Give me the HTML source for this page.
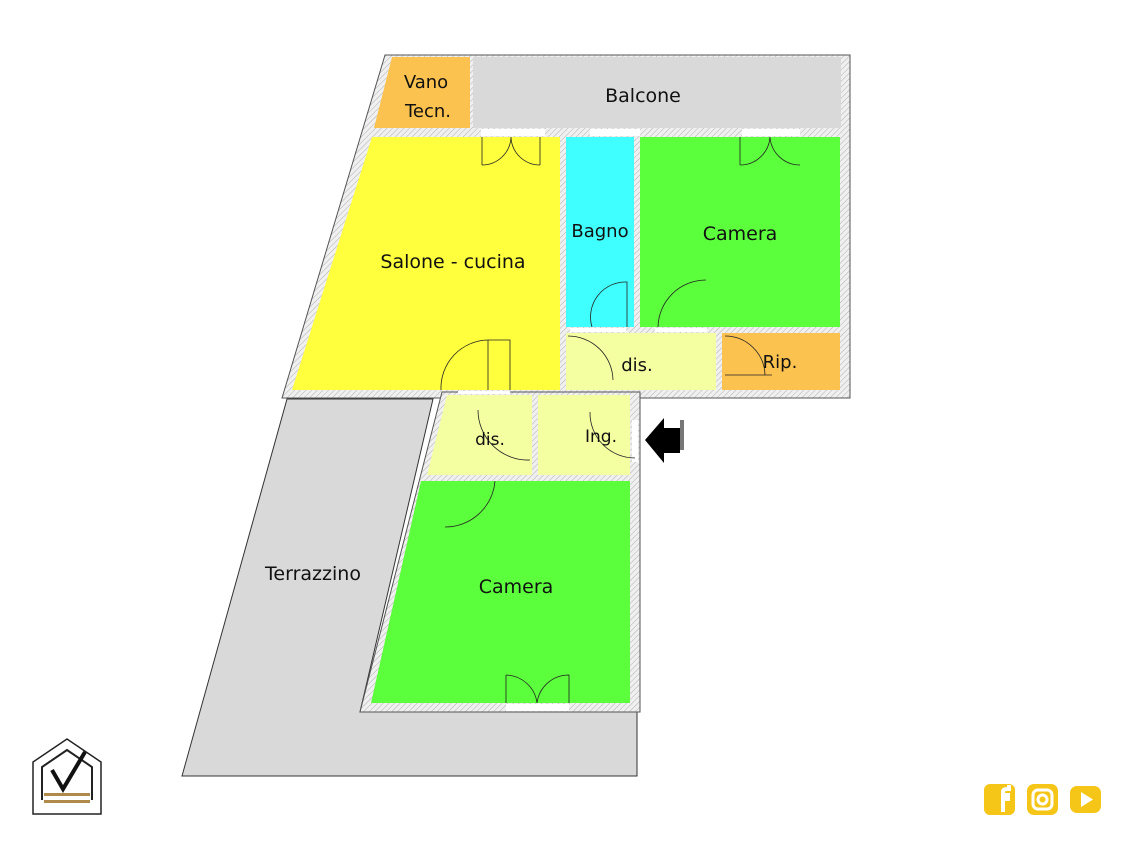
<!DOCTYPE html>
<html><head><meta charset="utf-8"><style>
html,body{margin:0;padding:0;background:#fff;}
svg{display:block;}
text{font-family:"DejaVu Sans","Liberation Sans",sans-serif;fill:#111;}
</style></head><body>
<svg width="1133" height="850" viewBox="0 0 1133 850" xmlns="http://www.w3.org/2000/svg">
<defs>
<pattern id="h" width="4" height="4" patternUnits="userSpaceOnUse" patternTransform="rotate(45)">
<rect width="4" height="4" fill="#f0f0f0"/><line x1="0" y1="0" x2="0" y2="4" stroke="#b0b0b0" stroke-width="1"/>
</pattern>
</defs>
<!-- terrace -->
<polygon points="287,399 433,399 360,712 637,712 637,776 182,776" fill="#d9d9d9" stroke="#333" stroke-width="1"/>
<!-- walls top block -->
<polygon points="385,55 850,55 850,398 282,398" fill="url(#h)" stroke="#555" stroke-width="1"/>
<!-- walls lower block -->
<polygon points="442,392 640,392 640,712 360,712" fill="url(#h)" stroke="#555" stroke-width="1"/>
<!-- rooms -->
<polygon points="392,57 470,57 470,128 374,128" fill="#fcc24f"/>
<rect x="473" y="57" width="368" height="71" fill="#d9d9d9"/>
<polygon points="372,137 560,137 560,390 292,390" fill="#ffff3d"/>
<rect x="566" y="137" width="68" height="190" fill="#40ffff"/>
<rect x="640" y="137" width="200" height="190" fill="#5cff3c"/>
<rect x="566" y="333" width="150" height="57" fill="#f4ffa2"/>
<rect x="722" y="333" width="118" height="57" fill="#fcc24f"/>
<polygon points="447,395 532,395 532,475 427,475" fill="#f4ffa2"/>
<rect x="538" y="395" width="92" height="80" fill="#f4ffa2"/>
<polygon points="421,481 630,481 630,703 371,703" fill="#5cff3c"/>
<!-- openings (white gaps) -->
<g fill="#fff">
<rect x="481" y="129" width="64" height="7"/>
<rect x="590" y="129" width="50" height="7"/>
<rect x="742" y="129" width="58" height="7"/>
<rect x="570" y="328" width="56" height="4"/>
<rect x="655" y="328" width="52" height="4"/>
<rect x="458" y="391" width="52" height="3"/>
<rect x="506" y="704" width="63" height="7"/>
<rect x="632" y="420" width="6" height="42"/>
</g>
<!-- door swings -->
<g fill="none" stroke="#222" stroke-width="0.8">
<path d="M482,165 A29,29 0 0 0 511,137 M511,137 A29,29 0 0 0 540,165"/>
<path d="M482,137 V165 M540,137 V165"/>
<path d="M740,165 A30,30 0 0 0 770,137 A30,30 0 0 0 800,165"/>
<path d="M740,137 V165"/>
<path d="M592,327 A35,35 0 0 1 627,282 V327"/>
<path d="M658,327 A48,48 0 0 1 706,280"/>
<path d="M568,336 A45,45 0 0 1 613,380"/>
<path d="M725,336 A40,40 0 0 1 765,375 M725,375 H772"/>
<path d="M441,390 A48,48 0 0 1 488,340 H510 V390"/>
<path d="M488,340 V390"/>
<path d="M478,410 A50,50 0 0 0 530,460"/>
<path d="M590,412 A45,45 0 0 0 635,458"/>
<path d="M445,527 A50,50 0 0 0 495,481"/>
<path d="M506,675 A32,32 0 0 1 537,703 A32,32 0 0 1 569,675 V703 M506,675 V703"/>
</g>
<!-- arrow -->
<polygon points="680,420 684,420 684,450 680,450" fill="#777"/>
<polygon points="645,440 664,418 664,428 680,428 680,453 664,453 664,463" fill="#000"/>
<!-- labels -->
<text x="426" y="88" font-size="18" text-anchor="middle">Vano</text>
<text x="428" y="117" font-size="18" text-anchor="middle">Tecn.</text>
<text x="643" y="102" font-size="19" text-anchor="middle">Balcone</text>
<text x="453" y="268" font-size="19" text-anchor="middle">Salone - cucina</text>
<text x="600" y="237" font-size="18" text-anchor="middle">Bagno</text>
<text x="740" y="240" font-size="19" text-anchor="middle">Camera</text>
<text x="637" y="371" font-size="18" text-anchor="middle">dis.</text>
<text x="780" y="368" font-size="18" text-anchor="middle">Rip.</text>
<text x="490" y="445" font-size="17" text-anchor="middle">dis.</text>
<text x="601" y="442" font-size="17" text-anchor="middle">Ing.</text>
<text x="313" y="580" font-size="19" text-anchor="middle">Terrazzino</text>
<text x="516" y="593" font-size="19" text-anchor="middle">Camera</text>
<!-- logo -->
<g>
<path d="M33,814 V762 L67,739 L101,762 V814 Z" fill="#fff" stroke="#222" stroke-width="1.5"/>
<path d="M42,800 V767 L67,750 L92,767 V800" fill="none" stroke="#222" stroke-width="2"/>
<path d="M52,770 L63,789 L85,752" fill="none" stroke="#111" stroke-width="4"/>
<rect x="44" y="793" width="46" height="3" fill="#b08a4a"/>
<rect x="44" y="800" width="46" height="3" fill="#b08a4a"/>
</g>
<!-- social -->
<g fill="#f5c518">
<rect x="984" y="784" width="31" height="31" rx="6"/>
<rect x="1027" y="784" width="31" height="31" rx="7"/>
<rect x="1070" y="786" width="31" height="27" rx="7"/>
</g>
<path d="M1003,812 V799 H1008 V795 H1003 V792 Q1003,789 1007,789 H1009 V785" fill="none" stroke="#fff" stroke-width="4"/>
<rect x="1033" y="790" width="19" height="19" rx="5" fill="none" stroke="#fff" stroke-width="3"/>
<circle cx="1042.5" cy="799.5" r="4.5" fill="none" stroke="#fff" stroke-width="3"/>
<polygon points="1081,792 1093,799.5 1081,807" fill="#fff"/>
</svg>
</body></html>
